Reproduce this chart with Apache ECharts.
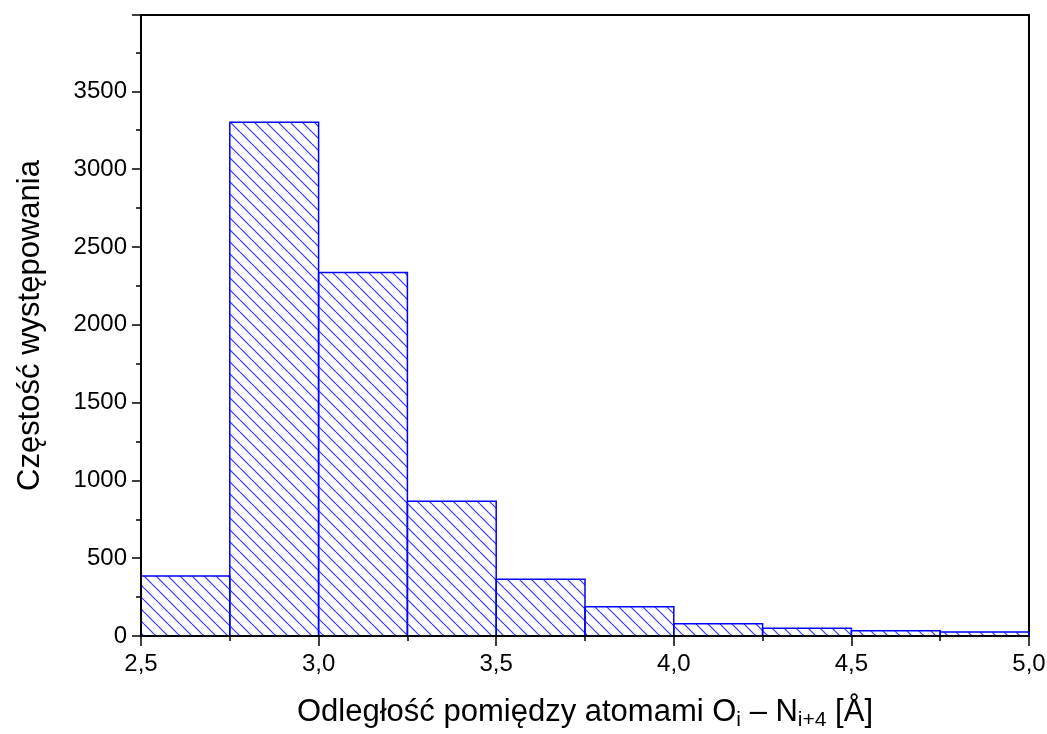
<!DOCTYPE html>
<html>
<head>
<meta charset="utf-8">
<script src="https://cdn.jsdelivr.net/npm/echarts@6/dist/echarts.min.js"></script>
<style>
html, body { margin: 0; padding: 0; background: #fff; }
#main { width: 1047px; height: 734px; }
</style>
</head>
<body>
<div id="main"></div>
<script>
// histogram bins (left edge) and counts
var binStarts = [2.5, 2.75, 3.0, 3.25, 3.5, 3.75, 4.0, 4.25, 4.5, 4.75];
var binWidth = 0.25;
var counts = [385, 3301, 2336, 865, 364, 188, 79, 49, 34, 26];

var xTickValues = [2.5, 3.0, 3.5, 4.0, 4.5, 5.0];
var xTickLabels = ['2,5', '3,0', '3,5', '4,0', '4,5', '5,0'];

var font = "'Liberation Sans', Arial, sans-serif";

// hatch pattern  \\\\
var step = 12;
var tile = document.createElement('canvas');
tile.width = step;
tile.height = step;
var ctx = tile.getContext('2d');
ctx.strokeStyle = '#3535ff';
ctx.lineWidth = 1.2;
for (var k = -1; k <= 1; k++) {
    ctx.beginPath();
    ctx.moveTo(k * step, 0);
    ctx.lineTo(k * step + step, step);
    ctx.stroke();
}
var hatch = { image: tile, repeat: 'repeat' };

var data = [];
for (var i = 0; i < counts.length; i++) {
    data.push([binStarts[i], binStarts[i] + binWidth, counts[i]]);
}

var myChart = echarts.init(document.getElementById('main'));

var option = {
    animation: false,
    backgroundColor: '#fff',
    grid: {
        left: 141,
        right: 18,
        top: 15,
        bottom: 98,
        outerBoundsMode: 'none',
        containLabel: false,
        show: true,
        borderColor: '#000',
        borderWidth: 2
    },
    xAxis: {
        type: 'value',
        min: 2.5,
        max: 5.0,
        interval: 0.5,
        z: 5,
        name: '{t|Odległość pomiędzy atomami O}{s|i}{t| – N}{s|i+4}{t| [Å]}',
        nameLocation: 'middle',
        nameGap: 57,
        nameTextStyle: {
            rich: {
                t: { fontFamily: font, fontSize: 31, color: '#000', lineHeight: 38, verticalAlign: 'middle' },
                s: { fontFamily: font, fontSize: 21, color: '#000', lineHeight: 21, verticalAlign: 'bottom' }
            }
        },
        axisLine: { lineStyle: { color: '#000', width: 2 } },
        axisTick: { show: true, inside: false, length: 10, lineStyle: { color: '#000', width: 1.5 } },
        minorTick: { show: true, splitNumber: 2, length: 5, lineStyle: { color: '#000', width: 1.5 } },
        splitLine: { show: false },
        axisLabel: {
            fontFamily: font,
            fontSize: 24,
            color: '#000',
            margin: 16,
            formatter: function (v) {
                for (var j = 0; j < xTickValues.length; j++) {
                    if (Math.abs(xTickValues[j] - v) < 1e-6) return xTickLabels[j];
                }
                return '';
            }
        }
    },
    yAxis: {
        type: 'value',
        min: 0,
        max: 3990,
        interval: 500,
        z: 5,
        name: 'Częstość występowania',
        nameLocation: 'middle',
        nameGap: 95,
        nameTextStyle: { fontFamily: font, fontSize: 31, color: '#000' },
        axisLine: { show: true, lineStyle: { color: '#000', width: 2 } },
        axisTick: { show: true, inside: false, length: 9, lineStyle: { color: '#000', width: 1.5 } },
        minorTick: { show: true, splitNumber: 2, length: 5, lineStyle: { color: '#000', width: 1.5 } },
        splitLine: { show: false },
        axisLabel: {
            fontFamily: font,
            fontSize: 24,
            color: '#000',
            margin: 14,
            showMaxLabel: false,
            formatter: function (v) {
                return v % 500 === 0 ? String(v) : '';
            }
        }
    },
    series: [{
        type: 'custom',
        z: 2,
        data: data,
        encode: { x: [0, 1], y: 2 },
        renderItem: function (params, api) {
            var top = api.coord([api.value(0), api.value(2)]);
            var bottom = api.coord([api.value(1), 0]);
            return {
                type: 'rect',
                shape: {
                    x: top[0],
                    y: top[1],
                    width: bottom[0] - top[0],
                    height: bottom[1] - top[1]
                },
                style: {
                    fill: hatch,
                    stroke: '#0000ff',
                    lineWidth: 1.5
                }
            };
        }
    }]
};

myChart.setOption(option);
</script>
</body>
</html>
